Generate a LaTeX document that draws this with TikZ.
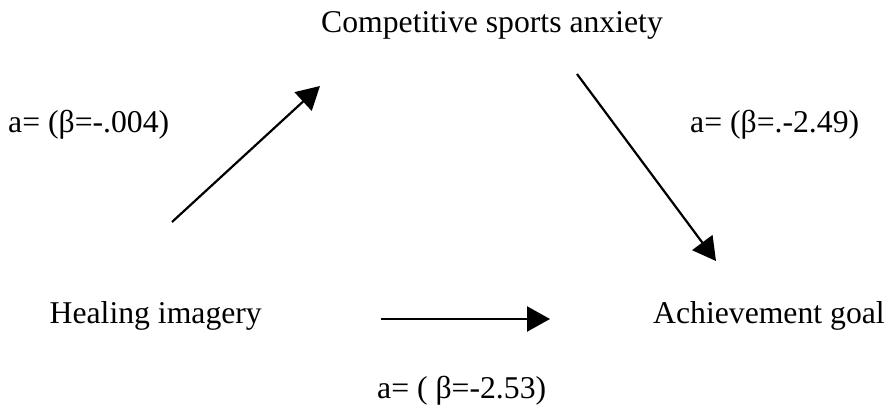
\documentclass[tikz,border=0pt]{standalone}
\usepackage{fontspec}
\setmainfont{Liberation Serif}
\usetikzlibrary{arrows.meta}
\begin{document}
\begin{tikzpicture}[x=1pt,y=-1pt,
  lbl/.style={inner sep=0pt,font=\fontsize{31.7}{38}\selectfont},
  conn/.style={line width=2.2pt,-{Triangle[length=23pt,width=25pt]}}]
\useasboundingbox (0,0) rectangle (886,412);
\node[lbl,anchor=base] (csa) at (492,33) {Competitive sports anxiety};
\node[lbl,anchor=base west] (la) at (8,132) {a= (β=-.004)};
\node[lbl,anchor=base west] (lb) at (690,132) {a= (β=.-2.49)};
\node[lbl,anchor=base east] (hi) at (262,323) {Healing imagery};
\node[lbl,anchor=base west] (ag) at (653,323) {Achievement goal};
\node[lbl,anchor=base west] (lc) at (377,398) {a= ( β=-2.53)};
\coordinate (a1s) at (172,222);
\coordinate (a1e) at (320,86);
\coordinate (a2s) at (577,74);
\coordinate (a2e) at (716,261);
\coordinate (a3s) at (381,319);
\coordinate (a3e) at (550,319);
\draw[conn] (a1s) -- (a1e);
\draw[conn] (a2s) -- (a2e);
\draw[conn] (a3s) -- (a3e);
\end{tikzpicture}
\end{document}
